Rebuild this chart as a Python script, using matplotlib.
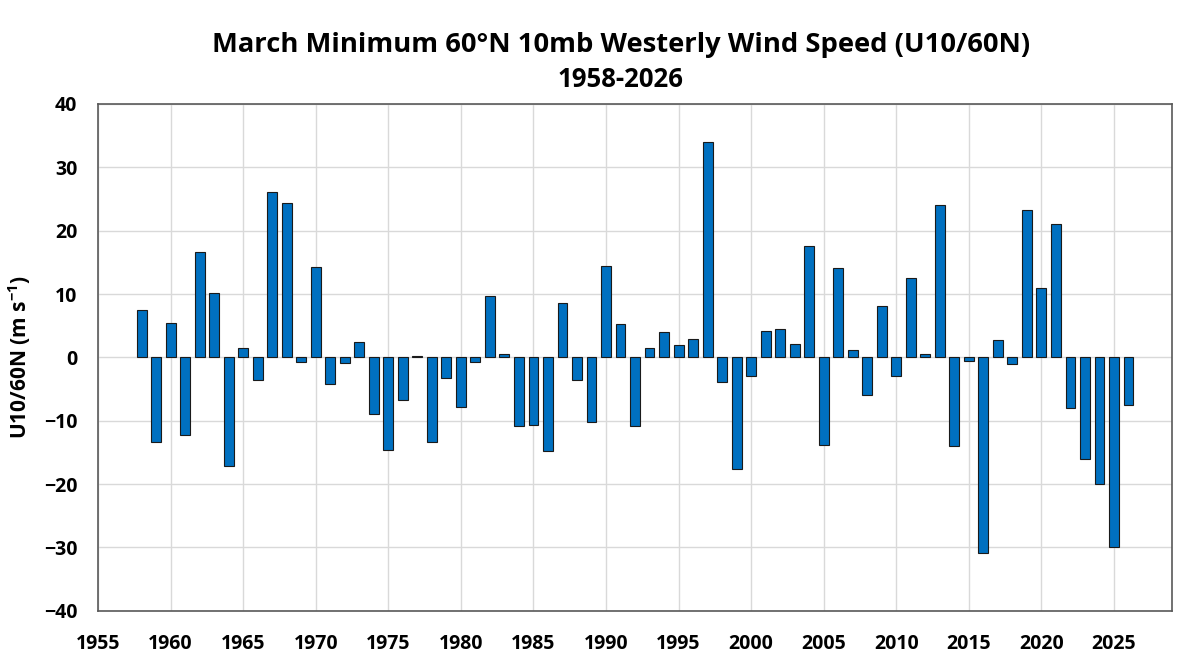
import numpy as np
import matplotlib.pyplot as plt

# March minimum U10/60N values, one per year
years = np.arange(1958, 2027)
u10_min = [
    7.5, -13.4, 5.5, -12.3, 16.7, 10.2, -17.1, 1.4, -3.6, 26.1,   # 1958-1967
    24.3, -0.7, 14.3, -4.2, -0.9, 2.5, -9.0, -14.7, -6.7, 0.2,    # 1968-1977
    -13.4, -3.2, -7.8, -0.8, 9.7, 0.5, -10.9, -10.7, -14.8, 8.6,  # 1978-1987
    -3.5, -10.2, 14.4, 5.3, -10.9, 1.5, 4.0, 1.9, 2.9, 34.0,      # 1988-1997
    -3.9, -17.6, -3.0, 4.2, 4.4, 2.1, 17.6, -13.8, 14.1, 1.2,     # 1998-2007
    -5.9, 8.1, -3.0, 12.5, 0.5, 24.1, -14.0, -0.6, -30.9, 2.7,    # 2008-2017
    -1.1, 23.2, 10.9, 21.0, -8.0, -16.0, -20.0, -29.9, -7.5,      # 2018-2026
]
x_ticks = np.arange(1955, 2030, 5)
y_ticks = np.arange(-40, 41, 10)

plt.rcParams["font.family"] = ["Open Sans", "DejaVu Sans"]
plt.rcParams["font.weight"] = "bold"
plt.rcParams["mathtext.fontset"] = "custom"
plt.rcParams["mathtext.bf"] = "Open Sans:bold"
plt.rcParams["mathtext.rm"] = "Open Sans:bold"

fig = plt.figure(figsize=(12, 6.7), dpi=100)
ax = fig.add_axes([0.0817, 0.0885, 0.8950, 0.7563])

ax.bar(years, u10_min, width=0.68, color="#0070C0", edgecolor="#1a1a1a",
       linewidth=0.8, zorder=3)

# Axis limits, ticks and grid
ax.set_xlim(1955, 2029)
ax.set_ylim(-40, 40)
ax.set_xticks(x_ticks)
ax.set_yticks(y_ticks)
ax.grid(True, color="#D9D9D9", linewidth=1.0, zorder=0)
ax.tick_params(length=0, labelsize=14)
ax.tick_params(axis="x", pad=17)
ax.tick_params(axis="y", pad=15)
for lab in ax.get_xticklabels() + ax.get_yticklabels():
    lab.set_fontweight("bold")
for spine in ax.spines.values():
    spine.set_color("#595959")
    spine.set_linewidth(1.2)

ax.set_ylabel("U10/60N (m s$^{\\mathrm{-1}}$)", fontsize=15, fontweight="bold",
              labelpad=8)

# Title and subtitle
fig.text(0.5175, 0.933, "March Minimum 60°N 10mb Westerly Wind Speed (U10/60N)",
         ha="center", va="center", fontsize=19.7, fontweight="bold")
fig.text(0.5175, 0.882, "1958-2026", ha="center", va="center",
         fontsize=18.5, fontweight="bold")

plt.savefig("out.png", dpi=100)
plt.close()
